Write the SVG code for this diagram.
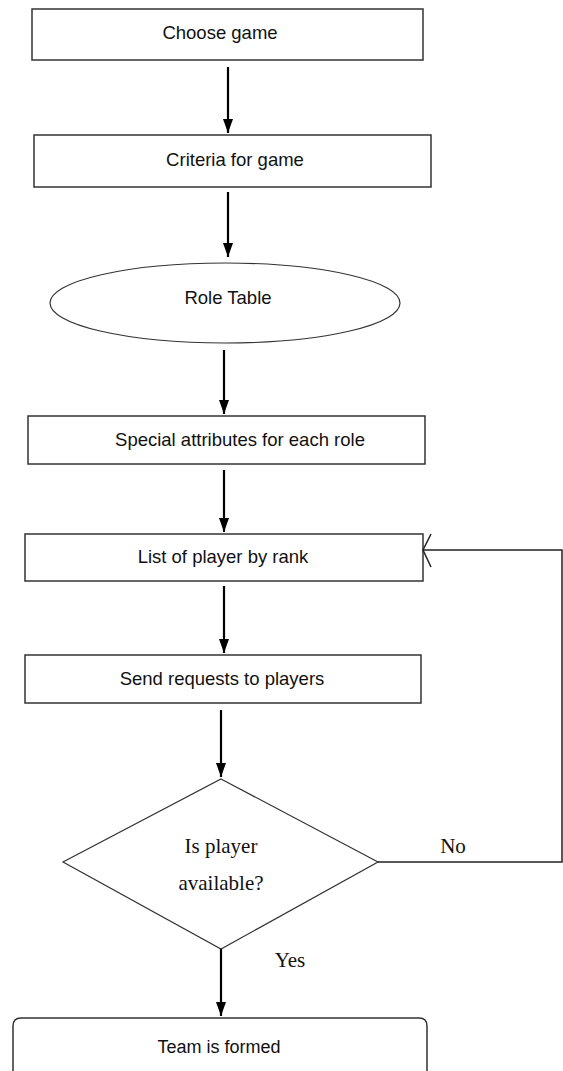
<svg xmlns="http://www.w3.org/2000/svg" width="563" height="1071" viewBox="0 0 563 1071">
<style>
.box{fill:#fff;stroke:#333;stroke-width:1.5}
.t{font-family:"Liberation Sans",Arial,sans-serif;font-size:18.5px;fill:#111;text-anchor:middle}
.s{font-family:"Liberation Serif","Times New Roman",serif;font-size:21px;fill:#111;text-anchor:middle}
.c{stroke:#000;stroke-width:2.2;fill:none}
.thin{stroke:#222;stroke-width:1.5;fill:none}
</style>
<defs>
<marker id="ah" markerWidth="14" markerHeight="10" refX="14" refY="5" orient="auto" markerUnits="userSpaceOnUse" viewBox="0 0 14 10">
<path d="M0,0 L14,5 L0,10 Z" fill="#000"/>
</marker>
</defs>
<g id="n1"><rect class="box" x="32" y="9" width="391" height="51"/><text class="t" x="220" y="39">Choose game</text></g>
<g id="n2"><rect class="box" x="34" y="135" width="397" height="52"/><text class="t" x="235" y="166">Criteria for game</text></g>
<g id="n3"><ellipse class="box" cx="225" cy="303" rx="175" ry="40" style="stroke-width:1.2"/><text class="t" x="228" y="304">Role Table</text></g>
<g id="n4"><rect class="box" x="28" y="416" width="397" height="48"/><text class="t" x="240" y="446">Special attributes for each role</text></g>
<g id="n5"><rect class="box" x="25" y="534" width="398" height="47"/><text class="t" x="223" y="563">List of player by rank</text></g>
<g id="n6"><rect class="box" x="25" y="655" width="396" height="48"/><text class="t" x="222" y="685">Send requests to players</text></g>
<g id="n7"><polygon class="box" points="221,779 378,862 221,949 63,862" style="stroke-width:1.2"/><text class="s" x="221" y="853">Is player</text><text class="s" x="221" y="890">available?</text></g>
<g id="n8"><path class="box" d="M13,1071 L13,1026 Q13,1018 21,1018 L419,1018 Q427,1018 427,1026 L427,1071"/><text class="t" x="219" y="1053" style="font-size:18px">Team is formed</text></g>
<g id="connectors">
<line class="c" x1="228" y1="67" x2="228" y2="133" marker-end="url(#ah)"/>
<line class="c" x1="228" y1="192" x2="228" y2="257" marker-end="url(#ah)"/>
<line class="c" x1="224" y1="350" x2="224" y2="414" marker-end="url(#ah)"/>
<line class="c" x1="224" y1="470" x2="224" y2="532" marker-end="url(#ah)"/>
<line class="c" x1="224" y1="586" x2="224" y2="653" marker-end="url(#ah)"/>
<line class="c" x1="221" y1="710" x2="221" y2="777" marker-end="url(#ah)"/>
<line class="c" x1="221" y1="949" x2="221" y2="1016" marker-end="url(#ah)"/>
<polyline class="thin" points="378,862 562,862 562,550 423,550"/>
<polyline class="thin" points="431,534 423,550 431,567"/>
<text class="s" x="453" y="853">No</text>
<text class="s" x="290" y="967">Yes</text>
</g>
</svg>
